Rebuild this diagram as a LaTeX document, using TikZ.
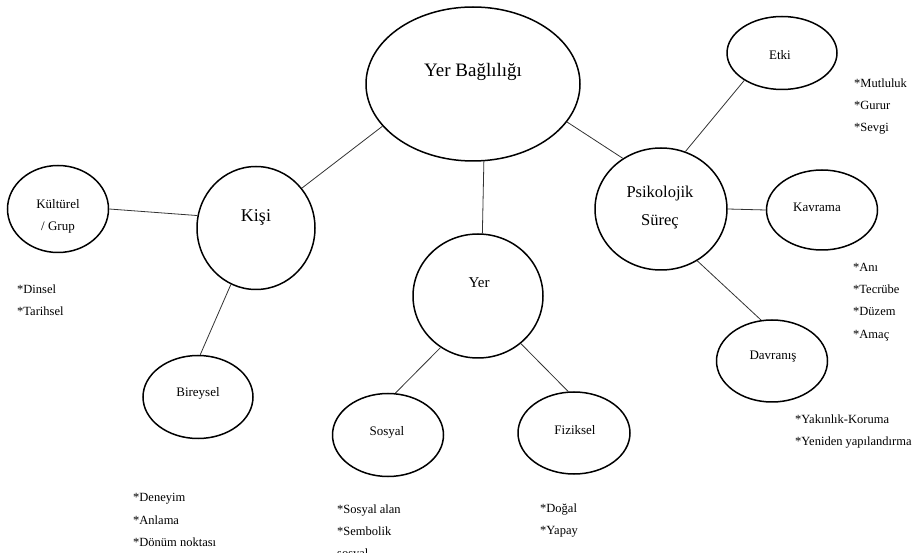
\documentclass[tikz,border=0pt]{standalone}
\usepackage{fontspec}
\setmainfont{Liberation Serif}
\usetikzlibrary{shapes.geometric}

\begin{document}
\begin{tikzpicture}[x=1pt,y=-1pt,
    blob/.style={draw,ellipse,line width=1.5pt,inner sep=0pt},
    word/.style={font=\fontsize{13}{22}\selectfont,align=center,inner sep=0pt},
    item/.style={font=\fontsize{12.5}{22}\selectfont,anchor=base west,inner sep=0pt},
    link/.style={line width=0.8pt,black!80}]
  \useasboundingbox (0,0) rectangle (922,553);

  \node[blob,minimum width=214pt,minimum height=154pt] (yb) at (473,84) {};
  \node[blob,minimum width=118pt,minimum height=123pt] (kisi) at (256,228) {};
  \node[blob,minimum width=101pt,minimum height=87pt] (kult) at (58,209) {};
  \node[blob,minimum width=110pt,minimum height=83pt] (bir) at (198,397) {};
  \node[blob,minimum width=130pt,minimum height=124pt] (yer) at (478,296) {};
  \node[blob,minimum width=111pt,minimum height=83pt] (sos) at (388,435) {};
  \node[blob,minimum width=112pt,minimum height=82pt] (fiz) at (574,433) {};
  \node[blob,minimum width=132pt,minimum height=122pt] (psi) at (661,209) {};
  \node[blob,minimum width=110pt,minimum height=73pt] (etki) at (782,53) {};
  \node[blob,minimum width=111pt,minimum height=80pt] (kav) at (822,210) {};
  \node[blob,minimum width=111pt,minimum height=82pt] (dav) at (772,361) {};

  \node[word,font=\fontsize{19}{22}\selectfont] (ybt) at (473,72) {Yer Bağlılığı};
  \node[word,font=\fontsize{18}{22}\selectfont] (kisit) at (256,217) {Kişi};
  \node[word] (kultt) at (58,216) {Kültürel\\/ Grup};
  \node[word] (birt) at (198,393) {Bireysel};
  \node[word,font=\fontsize{15}{22}\selectfont] (yert) at (479,283) {Yer};
  \node[word] (sost) at (387,432) {Sosyal};
  \node[word] (fizt) at (575,430) {Fiziksel};
  \node[word,font=\fontsize{16.5}{28}\selectfont] (psit) at (660,208) {Psikolojik\\Süreç};
  \node[word] (etkit) at (780,55) {Etki};
  \node[word] (kavt) at (817,207) {Kavrama};
  \node[word] (davt) at (773,357) {Davranış};

  \draw[link] (yb.205) -- (kisi.41);
  \draw[link] (yb.278) -- (yer.86);
  \draw[link] (yb.338) -- (psi.127);
  \draw[link] (psi.67) -- (etki.216);
  \draw[link] (psi.east) -- (kav.west);
  \draw[link] (psi.305) -- (dav.105);
  \draw[link] (kisi.168) -- (kult.east);
  \draw[link] (kisi.246) -- (bir.87);
  \draw[link] (yer.234) -- (sos.80);
  \draw[link] (yer.312) -- (fiz.98);

  \foreach \t [count=\i] in {*Dinsel,*Tarihsel}
    \node[item] (din-\i) at (17,272+22*\i) {\t};
  \foreach \t [count=\i] in {*Deneyim,*Anlama,*Dönüm noktası}
    \node[item] (den-\i) at (133,480+22*\i) {\t};
  \foreach \t [count=\i] in {*Sosyal alan,*Sembolik,sosyal}
    \node[item] (sal-\i) at (337,492+22*\i) {\t};
  \foreach \t [count=\i] in {*Doğal,*Yapay}
    \node[item] (dog-\i) at (540,490+22*\i) {\t};
  \foreach \t [count=\i] in {*Mutluluk,*Gurur,*Sevgi}
    \node[item] (mut-\i) at (854,66+22*\i) {\t};
  \foreach \t [count=\i] in {*Anı,*Tecrübe,*Düzem,*Amaç}
    \node[item] (ani-\i) at (853,249+22.3*\i) {\t};
  \foreach \t [count=\i] in {*Yakınlık-Koruma,*Yeniden yapılandırma}
    \node[item] (yak-\i) at (795,402+22*\i) {\t};
\end{tikzpicture}
\end{document}
